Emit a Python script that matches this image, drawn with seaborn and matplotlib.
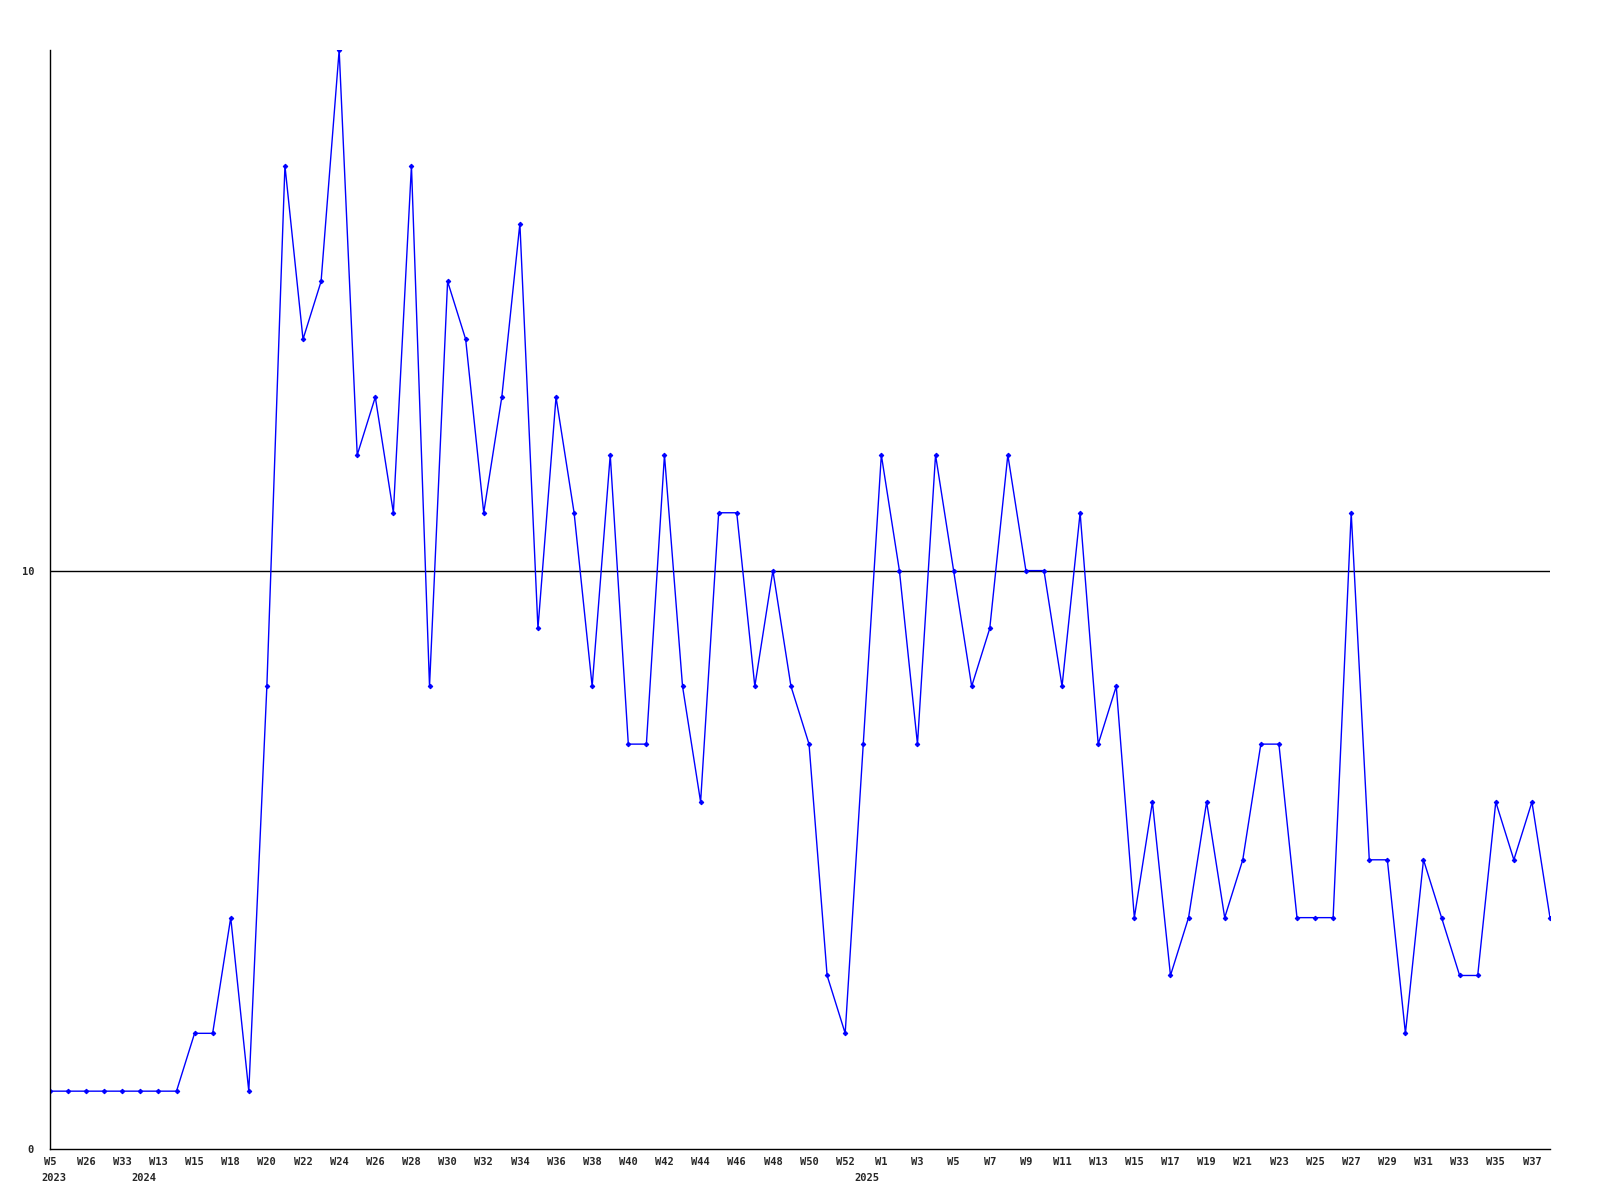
import matplotlib
matplotlib.use("Agg")
import matplotlib.pyplot as plt
import matplotlib.transforms as mtransforms
import seaborn as sns
import pandas as pd

# weekly counts, one value per week shown
weeks = ["W5", "W19", "W26", "W30", "W33", "W10", "W13", "W14", "W15", "W17",
         "W18", "W19", "W20", "W21", "W22", "W23", "W24", "W25", "W26", "W27",
         "W28", "W29", "W30", "W31", "W32", "W33", "W34", "W35", "W36", "W37",
         "W38", "W39", "W40", "W41", "W42", "W43", "W44", "W45", "W46", "W47",
         "W48", "W49", "W50", "W51", "W52", "W0", "W1", "W2", "W3", "W4",
         "W5", "W6", "W7", "W8", "W9", "W10", "W11", "W12", "W13", "W14",
         "W15", "W16", "W17", "W18", "W19", "W20", "W21", "W22", "W23", "W24",
         "W25", "W26", "W27", "W28", "W29", "W30", "W31", "W32", "W33", "W34",
         "W35", "W36", "W37", "W38"]
counts = [1, 1, 1, 1, 1, 1, 1, 1, 2, 2,
          4, 1, 8, 17, 14, 15, 19, 12, 13, 11,
          17, 8, 15, 14, 11, 13, 16, 9, 13, 11,
          8, 12, 7, 7, 12, 8, 6, 11, 11, 8,
          10, 8, 7, 3, 2, 7, 12, 10, 7, 12,
          10, 8, 9, 12, 10, 10, 8, 11, 7, 8,
          4, 6, 3, 4, 6, 4, 5, 7, 7, 4,
          4, 4, 11, 5, 5, 2, 5, 4, 3, 3,
          6, 5, 6, 4]
# first week of each year in the series
year_start = [0, 5, 45]
year_labels = ["2023", "2024", "2025"]

df = pd.DataFrame({"idx": range(len(counts)), "count": counts})

sns.set_style("white")
plt.rcParams["font.family"] = ["DejaVu Sans Mono"]

fig = plt.figure(figsize=(16, 12), dpi=100)
ax = fig.add_axes([0.03125, 0.0425, 0.9375, 0.9158])

sns.lineplot(data=df, x="idx", y="count", ax=ax, color="#0000FF",
             linewidth=1.0, marker="D", markersize=2.3,
             markeredgecolor="#0000FF", markerfacecolor="#0000FF")

ax.set_xlim(0, len(counts) - 1)
ax.set_ylim(0, 19)
ax.axhline(10, color="black", linewidth=1.0, zorder=0)

ax.set_xticks(range(0, len(counts), 2))
ax.set_xticklabels(weeks[::2], fontsize=7.5, fontweight="bold")
ax.set_yticks([0, 10])
ax.set_yticklabels(["0", "10"], fontsize=7.5, fontweight="bold")
ax.tick_params(axis="x", length=0, pad=5.5)
ax.tick_params(axis="y", length=0, pad=11.5)
ax.set_xlabel("")
ax.set_ylabel("")

for s in ["top", "right"]:
    ax.spines[s].set_visible(False)
for s in ["left", "bottom"]:
    ax.spines[s].set_color("black")
    ax.spines[s].set_linewidth(1.0)

trans = mtransforms.blended_transform_factory(ax.transData, ax.transAxes)
for i, yr in zip(year_start, year_labels):
    ax.text(i + 0.2, -0.026, yr, transform=trans, ha="center", va="center",
            fontsize=7.5, fontweight="bold")

fig.savefig("out.png", dpi=100)
plt.close(fig)
